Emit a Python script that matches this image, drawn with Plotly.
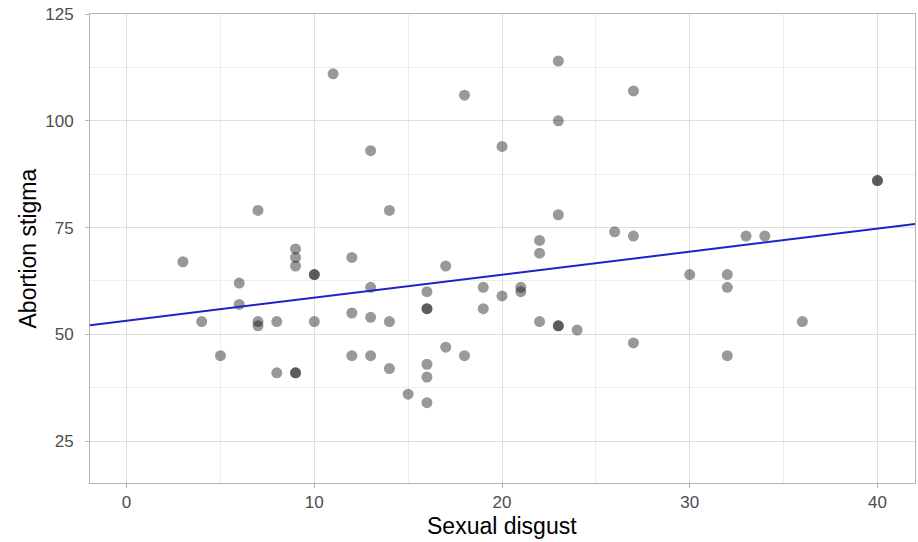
import numpy as np
import plotly.graph_objects as go

# Data
sexual_disgust = [3, 4, 5, 6, 6, 7, 7, 7, 8, 8, 9, 9, 9, 9, 9, 10, 10, 10, 11,
                  12, 12, 12, 13, 13, 13, 13, 14, 14, 14, 15, 16, 16, 16, 16, 16, 16,
                  17, 17, 18, 18, 19, 19, 20, 20, 21, 21, 22, 22, 22, 23, 23, 23, 23, 23,
                  24, 26, 27, 27, 27, 30, 32, 32, 32, 33, 34, 36, 40, 40]
abortion_stigma = [67, 53, 45, 62, 57, 79, 53, 52, 53, 41, 70, 68, 66, 41, 41, 64, 64, 53, 111,
                   55, 68, 45, 93, 61, 54, 45, 79, 53, 42, 36, 60, 56, 56, 43, 40, 34,
                   66, 47, 106, 45, 61, 56, 94, 59, 61, 60, 72, 69, 53, 114, 100, 78, 52, 52,
                   51, 74, 107, 73, 48, 64, 64, 61, 45, 73, 73, 53, 86, 86]
x_ticks = [0, 10, 20, 30, 40]
y_ticks = [25, 50, 75, 100, 125]
x_range = [-1.95, 42.0]
y_range = [15.2, 125.0]
x_title = "Sexual disgust"
y_title = "Abortion stigma"

x = np.array(sexual_disgust, dtype=float)
y = np.array(abortion_stigma, dtype=float)
slope, intercept = np.polyfit(x, y, 1)
line_x = np.array(x_range)
line_y = intercept + slope * line_x

FONT = "Liberation Sans, Arial, Helvetica, sans-serif"
W, H = 918, 542
ML, MR, MT, MB = 90, 3, 14, 59
PW, PH = W - ML - MR, H - MT - MB

fig = go.Figure()
fig.add_trace(go.Scatter(
    x=sexual_disgust, y=abortion_stigma, mode="markers",
    marker=dict(color="rgba(0,0,0,0.4)", size=11, line=dict(width=0)),
    showlegend=False, hoverinfo="x+y",
))
fig.add_trace(go.Scatter(
    x=line_x, y=line_y, mode="lines",
    line=dict(color="#2020cc", width=2),
    showlegend=False,
))

axis_common = dict(
    showline=True, mirror=True, linecolor="#b3b3b3", linewidth=1,
    showgrid=True, gridcolor="#dedede", gridwidth=1,
    ticks="outside", ticklen=4, tickcolor="#b3b3b3", tickwidth=1,
    tickfont=dict(family=FONT, size=17, color="#4d4d4d"),
    zeroline=False, automargin=False,
)

fig.update_layout(
    width=W, height=H,
    margin=dict(l=ML, r=MR, t=MT, b=MB),
    plot_bgcolor="white", paper_bgcolor="white",
    xaxis=dict(
        range=x_range, tickmode="array", tickvals=x_ticks,
        ticktext=[str(v) for v in x_ticks],
        minor=dict(dtick=5, tick0=0, showgrid=True, gridcolor="#eeeeee", gridwidth=1, ticks=""),
        ticklabelstandoff=0,
        **axis_common,
    ),
    yaxis=dict(
        range=y_range, tickmode="array", tickvals=y_ticks,
        ticktext=[str(v) for v in y_ticks],
        minor=dict(dtick=12.5, tick0=0, showgrid=True, gridcolor="#eeeeee", gridwidth=1, ticks=""),
        ticklabelstandoff=8,
        **axis_common,
    ),
    annotations=[
        dict(text=x_title, xref="paper", yref="paper",
             x=(502 - ML) / PW, y=-(526 - (H - MB)) / PH,
             xanchor="center", yanchor="middle", showarrow=False,
             font=dict(family=FONT, size=23, color="#000000")),
        dict(text=y_title, xref="paper", yref="paper",
             x=(27 - ML) / PW, y=0.5, textangle=-90,
             xanchor="center", yanchor="middle", showarrow=False,
             font=dict(family=FONT, size=23, color="#000000")),
    ],
)

fig.write_html(
    "out.html",
    config={"displayModeBar": False},
    post_script="document.body.style.margin='0';document.body.style.padding='0';"
                "document.body.style.overflow='hidden';"
                "document.documentElement.style.overflow='hidden';",
)
